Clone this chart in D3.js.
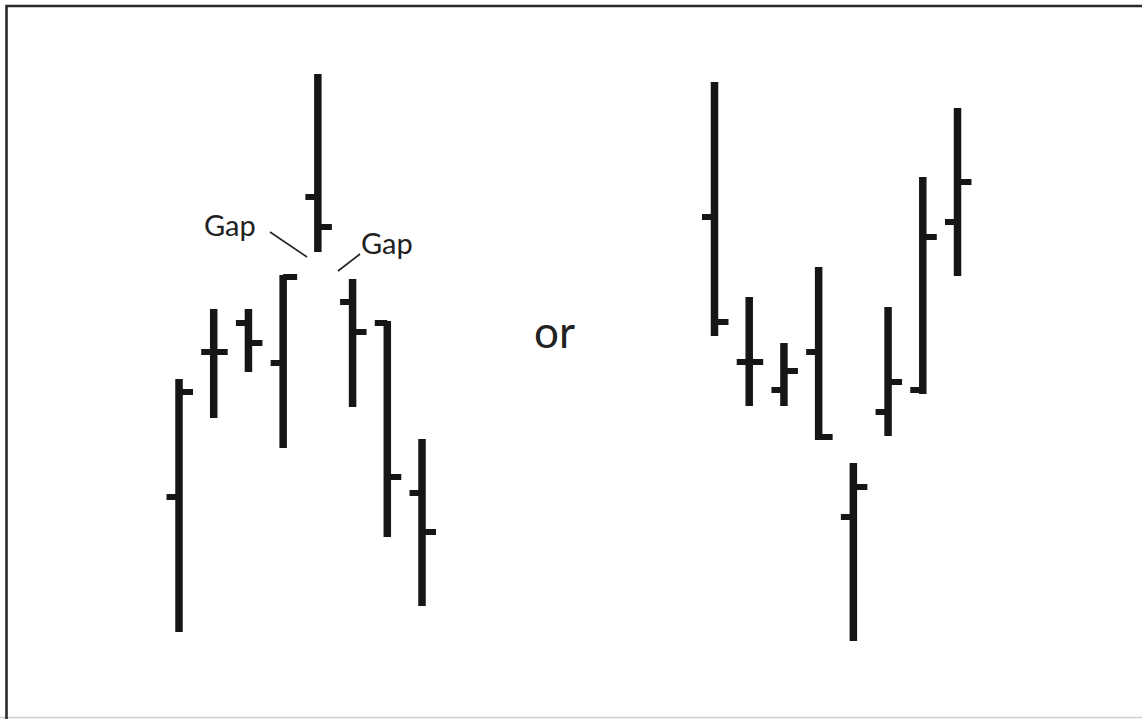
<!DOCTYPE html>
<html>
<head>
<meta charset="utf-8">
<script src="https://cdn.jsdelivr.net/npm/d3@7"></script>
<style>
html,body{margin:0;padding:0;background:#fff;}
svg{display:block;}
</style>
</head>
<body>
<script>
// Island reversal illustration: two groups of OHLC bars
const leftHigh  = [321, 391, 391, 425, 626, 421, 379, 261];
const leftLow   = [ 68, 282, 328, 252, 448, 293, 163,  94];
const leftOpen  = [203, 348, 377, 337, 503, 398, 377, 207];
const leftClose = [308, 348, 357, 423, 473, 368, 223, 168];

const rightHigh  = [618, 403, 357, 433, 237, 393, 523, 592];
const rightLow   = [364, 294, 294, 260,  59, 264, 306, 424];
const rightOpen  = [483, 338, 310, 348, 183, 288, 310, 478];
const rightClose = [378, 338, 329, 263, 213, 318, 463, 518];

const labels = ["Gap", "Gap", "or"];

const W = 1142, H = 719;
const svg = d3.select("body").append("svg").attr("width", W).attr("height", H);

const y = d3.scaleLinear().domain([0, 700]).range([700, 0]);
const xLeft = d3.scaleLinear().domain([0, 7]).range([179, 422]);
const xRight = d3.scaleLinear().domain([0, 7]).range([714.5, 957.5]);

// frame
svg.append("line").attr("x1", 0).attr("x2", W).attr("y1", 717.5).attr("y2", 717.5)
  .attr("stroke", "#d0d0d0").attr("stroke-width", 1.5);
svg.append("path").attr("d", `M6.5,${H} L6.5,6 L${W},6`)
  .attr("fill", "none").attr("stroke", "#2a2a2a").attr("stroke-width", 2.6);

const ink = "#161616";
function drawGroup(x, hi, lo, op, cl) {
  const data = hi.map((h, i) => ({i, h, l: lo[i], o: op[i], c: cl[i]}));
  const g = svg.append("g");
  g.selectAll("line.hl").data(data).join("line")
    .attr("x1", d => x(d.i)).attr("x2", d => x(d.i))
    .attr("y1", d => y(d.h)).attr("y2", d => y(d.l))
    .attr("stroke", ink).attr("stroke-width", 7.5);
  g.selectAll("line.op").data(data).join("line")
    .attr("x1", d => x(d.i) - 12.5).attr("x2", d => x(d.i))
    .attr("y1", d => y(d.o)).attr("y2", d => y(d.o))
    .attr("stroke", ink).attr("stroke-width", 6);
  g.selectAll("line.cl").data(data).join("line")
    .attr("x1", d => x(d.i)).attr("x2", d => x(d.i) + 14)
    .attr("y1", d => y(d.c)).attr("y2", d => y(d.c))
    .attr("stroke", ink).attr("stroke-width", 6);
}
drawGroup(xLeft, leftHigh, leftLow, leftOpen, leftClose);
drawGroup(xRight, rightHigh, rightLow, rightOpen, rightClose);

// annotations
const font = "Lato, 'Open Sans', sans-serif";
svg.append("text").attr("x", 204).attr("y", 236).text(labels[0])
  .attr("font-family", font).attr("font-size", 29).attr("fill", "#222");
svg.append("text").attr("x", 361).attr("y", 254).text(labels[1])
  .attr("font-family", font).attr("font-size", 29).attr("fill", "#222");
svg.append("text").attr("x", 534).attr("y", 348).text(labels[2])
  .attr("font-family", font).attr("font-size", 44).attr("fill", "#222");

svg.append("line").attr("x1", 270).attr("y1", 232).attr("x2", 307).attr("y2", 257)
  .attr("stroke", "#222").attr("stroke-width", 1.6);
svg.append("line").attr("x1", 338).attr("y1", 271).attr("x2", 360).attr("y2", 254)
  .attr("stroke", "#222").attr("stroke-width", 1.6);
</script>
</body>
</html>
